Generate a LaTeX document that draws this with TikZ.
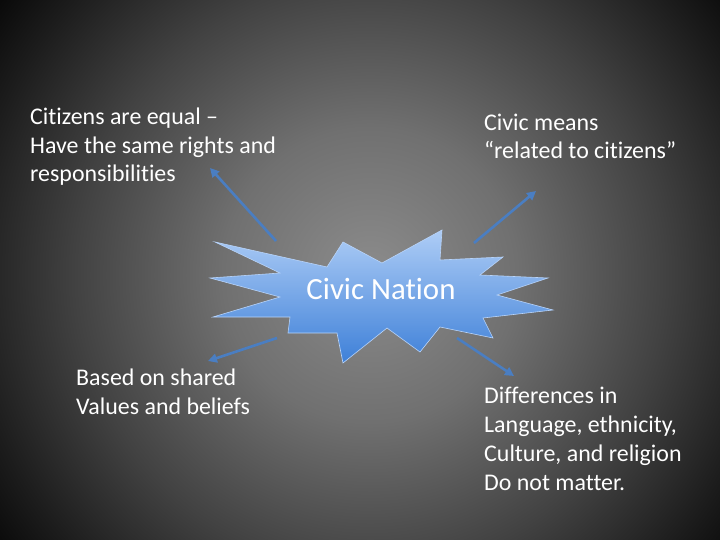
\documentclass[tikz,border=0pt]{standalone}
\usepackage{fontspec}
\setmainfont{Carlito}[Ligatures={NoCommon}]
\usetikzlibrary{arrows.meta}
\definecolor{arrowblue}{HTML}{4A7EC2}
\definecolor{burstTop}{HTML}{AECDF6}
\definecolor{burstBot}{HTML}{3E80D8}
\definecolor{burstEdge}{HTML}{B8D4FA}
\definecolor{bgA}{HTML}{8C8C8C}
\definecolor{bgB}{HTML}{707070}
\definecolor{bgC}{HTML}{424242}
\definecolor{bgD}{HTML}{1C1C1C}
\definecolor{bgE}{HTML}{0A0A0A}
\pgfdeclareradialshading{bgshade}{\pgfpoint{0bp}{0bp}}{color(0bp)=(bgA); color(8bp)=(bgB); color(16bp)=(bgC); color(22bp)=(bgD); color(25bp)=(bgE); color(50bp)=(bgE)}
\tikzset{
  label text/.style={text=white, font=\fontsize{24}{29}\selectfont, align=left, inner sep=0pt},
  connector/.style={draw=arrowblue, line width=2.6bp, -{Triangle[length=9bp,width=9bp]}},
}
\begin{document}
\begin{tikzpicture}[x=1bp,y=-1bp]
\useasboundingbox (0,0) rectangle (720,540);
\begin{scope}
\clip (0,0) rectangle (720,540);
\fill[bgE] (0,0) rectangle (720,540);
\shade[shading=bgshade] (370,275) circle (460);
\end{scope}
% starburst
\shade[top color=burstTop, bottom color=burstBot, draw=burstEdge, line width=0.6bp]
  (215,242) -- (327,267) -- (343,242) -- (382,263) -- (442,230) -- (440,260)
  -- (503,257) -- (480,275) -- (548,278) -- (497,295) -- (553,310) -- (483,318)
  -- (493,338) -- (440,327) -- (420,352) -- (387,328) -- (343,363) -- (337,333)
  -- (288,333) -- (290,317) -- (213,317) -- (280,297) -- (210,278) -- (280,273) -- cycle;
\node[text=white, font=\fontsize{31}{36}\selectfont, inner sep=0pt, anchor=base] (center) at (381,299) {Civic Nation};
% texts (anchor = baseline of last line)
\node[label text, anchor=base west] (tl) at (30,182) {Citizens are equal --\\Have the same rights and\\responsibilities};
\node[label text, anchor=base west] (tr) at (484,159) {Civic means\\“related to citizens”};
\node[label text, anchor=base west] (bl) at (76,414) {Based on shared\\Values and beliefs};
\node[label text, anchor=base west] (br) at (484,490) {Differences in\\Language, ethnicity,\\Culture, and religion\\Do not matter.};
% arrow ends
\coordinate (a1s) at (276,241); \coordinate (a1e) at (210,168);
\coordinate (a2s) at (474,243); \coordinate (a2e) at (536,191);
\coordinate (a3s) at (277,338); \coordinate (a3e) at (208,361);
\coordinate (a4s) at (457,338); \coordinate (a4e) at (514,376);
\draw[connector] (a1s) -- (a1e);
\draw[connector] (a2s) -- (a2e);
\draw[connector] (a3s) -- (a3e);
\draw[connector] (a4s) -- (a4e);
\end{tikzpicture}
\end{document}
